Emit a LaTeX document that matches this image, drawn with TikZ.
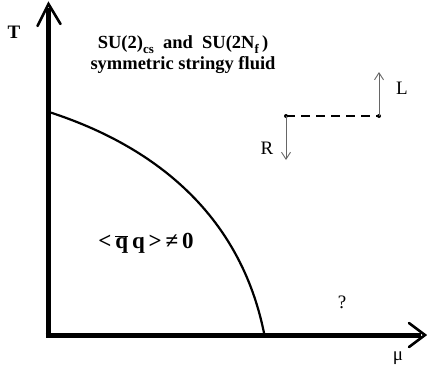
\documentclass[tikz,border=0pt]{standalone}
\usepackage{fontspec}
\setmainfont{Liberation Serif}
\usetikzlibrary{arrows.meta}
\tikzset{
  axis/.style={line width=5pt},
  curveline/.style={line width=2.2pt},
  pol/.style={draw=black!60, line width=0.9pt, -{Straight Barb[length=7pt,width=9pt,line width=0.9pt]}},
  boldtxt/.style={font=\bfseries\fontsize{18.5}{21}\selectfont, inner sep=0pt},
  plaintxt/.style={font=\fontsize{19}{21}\selectfont, inner sep=0pt}
}
\begin{document}
\begin{tikzpicture}[x=1pt,y=-1pt]
\useasboundingbox (0,0) rectangle (427,376);
% axes
\draw[axis] (48,337.5) -- (48,8);
\draw[axis] (45.5,335) -- (421,335);
\draw[line width=2.6pt, line cap=round, line join=miter] (37.5,26) -- (48.5,4) -- (60.5,24);
\draw[line width=2.6pt, line cap=round, line join=miter] (409,323) -- (425,335) -- (409,347);
% phase boundary
\draw[curveline] (49,112) .. controls (120,135) and (235,190) .. (264,333);
% axis labels
\node[boldtxt, font=\bfseries\fontsize{19}{21}\selectfont] (T) at (14,32) {T};
\node[plaintxt] (mu) at (398,358) {μ};
% title text
\node[boldtxt, align=center] (title) at (183,55)
  {SU(2)\raisebox{-0.5ex}{\fontsize{13}{14}\selectfont cs}\ \ and\ \ SU(2N\raisebox{-0.5ex}{\fontsize{13}{14}\selectfont f}\,)\\[0pt] symmetric stringy fluid};
% condensate
\node[boldtxt, font=\bfseries\fontsize{23}{25}\selectfont] (cond) at (146,243)
  {<\,$\overline{\hbox{\bfseries\fontsize{23}{25}\selectfont q}}$\,q\,>\,≠\,0};
% question mark
\node[plaintxt] (q) at (342,302) {?};
% dashed line with polarisation arrows
\coordinate (A) at (286,116);
\coordinate (B) at (379,116);
\coordinate (Rend) at (286,160);
\coordinate (Lend) at (379,72);
\draw[line width=2.8pt, dash pattern=on 9pt off 6pt] (A) -- (B);
\fill (A) circle (2pt);
\fill (B) circle (2pt);
\draw[pol] (A) -- (Rend);
\draw[pol] (B) -- (Lend);
\node[plaintxt] (R) at (267,148) {R};
\node[plaintxt] (L) at (402,88) {L};
\end{tikzpicture}
\end{document}
